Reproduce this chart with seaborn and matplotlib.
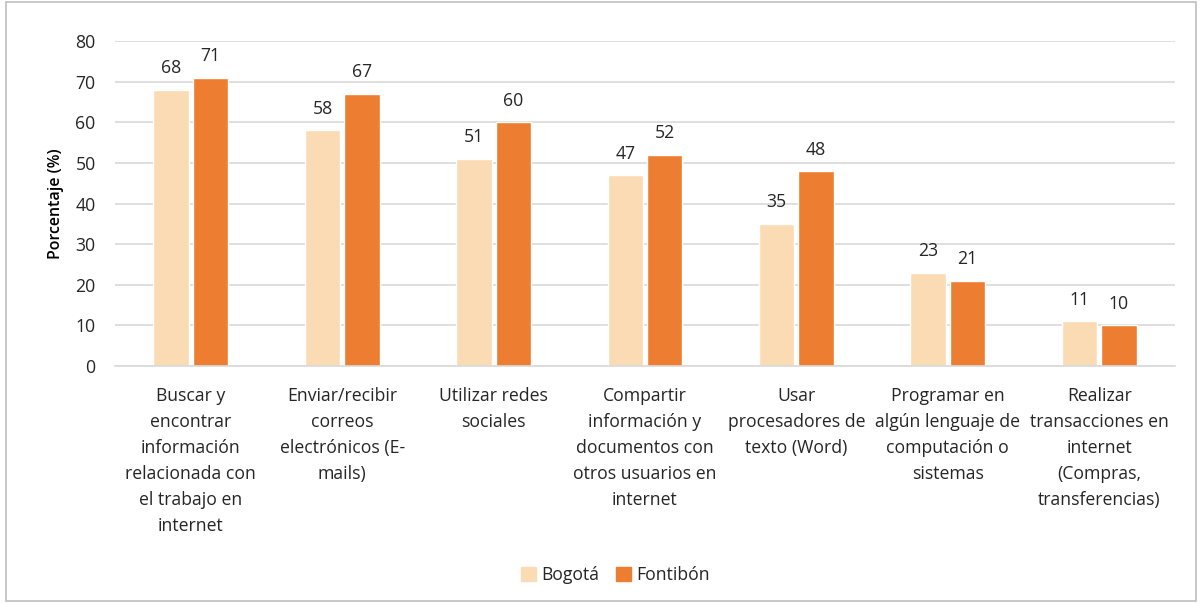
import matplotlib
matplotlib.use("Agg")
import matplotlib.pyplot as plt
import seaborn as sns
import pandas as pd
from matplotlib.patches import Rectangle

categories = [
    "Buscar y\nencontrar\ninformación\nrelacionada con\nel trabajo en\ninternet",
    "Enviar/recibir\ncorreos\nelectrónicos (E-\nmails)",
    "Utilizar redes\nsociales",
    "Compartir\ninformación y\ndocumentos con\notros usuarios en\ninternet",
    "Usar\nprocesadores de\ntexto (Word)",
    "Programar en\nalgún lenguaje de\ncomputación o\nsistemas",
    "Realizar\ntransacciones en\ninternet\n(Compras,\ntransferencias)",
]
bogota = [68, 58, 51, 47, 35, 23, 11]
fontibon = [71, 67, 60, 52, 48, 21, 10]
series = ["Bogotá", "Fontibón"]
colors = ["#FADBB4", "#ED7D31"]

df = pd.DataFrame({
    "cat": categories * 2,
    "val": bogota + fontibon,
    "serie": [series[0]] * len(categories) + [series[1]] * len(categories),
})

sns.set_theme(style="white")
plt.rcParams["font.family"] = ["Open Sans", "DejaVu Sans"]

fig = plt.figure(figsize=(12.02, 6.03), dpi=100)
ax = fig.add_axes([0.0957, 0.393, 0.8818, 0.539])

sns.barplot(data=df, x="cat", y="val", hue="serie", palette=colors,
            width=0.52, gap=0.1, ax=ax, saturation=1, errorbar=None)

ax.set_ylim(0, 80)
ax.set_yticks(range(0, 81, 10))
ax.yaxis.grid(True, color="#D9D9D9", linewidth=1.2)
ax.set_axisbelow(True)
for s in ["left", "right", "top"]:
    ax.spines[s].set_visible(False)
ax.spines["bottom"].set_color("#D9D9D9")
ax.spines["bottom"].set_linewidth(1.2)
ax.tick_params(axis="both", length=0, labelsize=12.7, colors="#262626")
ax.tick_params(axis="x", pad=15)
ax.tick_params(axis="y", pad=14)
for lbl in ax.get_xticklabels():
    lbl.set_linespacing(1.58)
ax.set_xlabel("")
ax.set_ylabel("Porcentaje (%)", fontsize=11.5, color="black", fontweight="semibold", labelpad=8)

for cont in ax.containers:
    ax.bar_label(cont, fmt="%d", padding=9, fontsize=12.7, color="#262626")

ax.legend_.remove()
handles = [Rectangle((0, 0), 1, 1, color=c) for c in colors]
fig.legend(handles, series, loc="center", bbox_to_anchor=(0.512, 0.046), ncol=2,
           frameon=False, fontsize=12.7, handlelength=0.8, handleheight=0.8,
           handletextpad=0.3, columnspacing=1.0)

fig.patches.append(Rectangle((0.005, 0.003), 0.99, 0.994, transform=fig.transFigure,
                             fill=False, edgecolor="#BFBFBF", linewidth=1.2))

fig.savefig("out.png", dpi=100)
